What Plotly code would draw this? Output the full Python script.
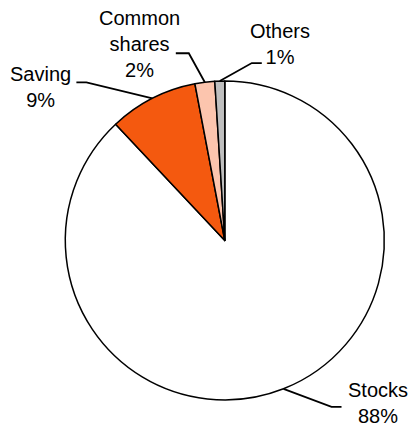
import math
import plotly.graph_objects as go

categories = ["Stocks", "Saving", "Common shares", "Others"]
values = [88, 9, 2, 1]
label_texts = ["Stocks<br>88%", "Saving<br>9%", "Common<br>shares<br>2%", "Others<br>1%"]
colors = ["#FFFFFF", "#F4590F", "#FCC5AE", "#BFBFBF"]

W, H = 411, 430
cx, cy, r = 224.8, 240.5, 159.5  # pie centre / radius in pixels

fig = go.Figure(go.Pie(
    labels=categories, values=values, sort=False, direction="clockwise",
    rotation=0, textinfo="none", hoverinfo="label+percent",
    marker=dict(colors=colors, line=dict(color="black", width=1.5)),
    domain=dict(x=[(cx - r) / W, (cx + r) / W],
                y=[(H - cy - r) / H, (H - cy + r) / H]),
    showlegend=False,
))

# leader-line layout: (elbow dx, elbow dy, horizontal length, label x, label y, anchor)
leader = {
    "Stocks": (48, 18, 10, 378, 403, "center"),
    "Saving": (-66, -16, -10, 40, 87, "center"),
    "Common shares": (-16, -29, -13, 139, 44, "center"),
    "Others": (32, -18, 10, 280, 44, "center"),
}

total = sum(values)
cum = 0
shapes, annotations = [], []
for cat, v, txt in zip(categories, values, label_texts):
    mid = (cum + v / 2) / total * 2 * math.pi
    cum += v
    px = cx + r * math.sin(mid)
    py = cy - r * math.cos(mid)
    dx, dy, hl, lx, ly, anc = leader[cat]
    ex, ey = px + dx, py + dy
    hx = ex + hl
    pts = [(px, py), (ex, ey), (hx, ey)]
    path = "M " + " L ".join(f"{x / W:.5f},{1 - y / H:.5f}" for x, y in pts)
    shapes.append(dict(type="path", path=path, xref="paper", yref="paper",
                       line=dict(color="black", width=1.8)))
    annotations.append(dict(text=txt, x=lx / W, y=1 - ly / H, xref="paper", yref="paper",
                            showarrow=False, xanchor=anc, yanchor="middle",
                            font=dict(size=20, color="black",
                                      family="Liberation Sans, Arial, sans-serif")))

fig.update_layout(
    width=W, height=H, margin=dict(l=0, r=0, t=0, b=0),
    paper_bgcolor="white", plot_bgcolor="white",
    shapes=shapes, annotations=annotations,
)

fig.write_html("out.html", config={"displayModeBar": False},
               post_script="document.body.style.margin='0';document.body.style.overflow='hidden';")
